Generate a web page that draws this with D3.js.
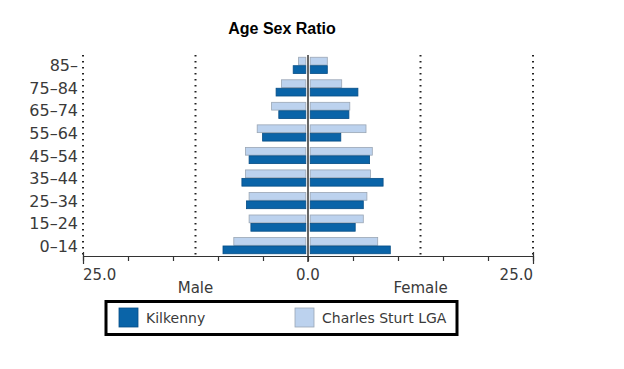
<!DOCTYPE html>
<html><head><meta charset="utf-8">
<script src="https://cdn.jsdelivr.net/npm/d3@7"></script>
<style>body{margin:0;background:#fff}</style>
</head><body>
<svg id="c" width="624" height="369"></svg>
<script>
const categories = ["85-","75-84","65-74","55-64","45-54","35-44","25-34","15-24","0-14"];
const seriesNames = ["Kilkenny","Charles Sturt LGA"];
const kilkennyMale   = [1.4, 3.3, 3.0, 4.8, 6.3, 7.1, 6.6, 6.1, 9.2];
const kilkennyFemale = [1.9, 5.3, 4.3, 3.4, 6.6, 8.1, 5.9, 5.0, 8.9];
const charlesMale    = [0.8, 2.7, 3.8, 5.4, 6.7, 6.7, 6.3, 6.3, 8.0];
const charlesFemale  = [1.9, 3.5, 4.4, 6.2, 6.9, 6.7, 6.3, 5.9, 7.5];
const xTicks = [-25,-20,-15,-10,-5,0,5,10,15,20,25];
const gridVals = [-25,-12.5,12.5,25];
const sideLabels = ["Male","Female"];

const colors = {dark:"#0a64a8", darkEdge:"#064d85", light:"#bcd2ee", lightEdge:"#9aa6b4"};
const svg = d3.select("#c");
const font = "'DejaVu Sans', sans-serif";
const textCol = "#3a3a3a";

const x = d3.scaleLinear().domain([-25,25]).range([83,533]);
const y = d3.scaleBand().domain(categories).range([55,256]).paddingInner(0.28).paddingOuter(0.1);
const sub = d3.scaleBand().domain(["light","dark"]).range([0,y.bandwidth()]).paddingInner(0.08);
const gap = 2.2;

svg.append("text").attr("x",282).attr("y",34).attr("text-anchor","middle")
  .attr("font-family","'Liberation Sans', Arial, sans-serif").attr("font-weight","bold")
  .attr("font-size",16).text("Age Sex Ratio");

// dotted grid lines
svg.selectAll(".grid").data(gridVals).enter().append("line")
  .attr("x1",d=>x(d)).attr("x2",d=>x(d)).attr("y1",55).attr("y2",256)
  .attr("stroke","#222").attr("stroke-width",2).attr("stroke-dasharray","1.5,4.5");

const rows = svg.selectAll(".row").data(categories).enter().append("g")
  .attr("transform",d=>`translate(0,${y(d)})`);

function bars(arr, kind, side){
  rows.append("rect")
    .attr("x",(d,i)=> side<0 ? x(-arr[i]) - gap : x(0)+gap)
    .attr("width",(d,i)=> x(arr[i]) - x(0))
    .attr("y", sub(kind)).attr("height", sub.bandwidth())
    .attr("fill", kind==="dark"?colors.dark:colors.light)
    .attr("stroke", kind==="dark"?colors.darkEdge:colors.lightEdge)
    .attr("stroke-width",0.8);
}
bars(charlesMale,"light",-1);
bars(kilkennyMale,"dark",-1);
bars(charlesFemale,"light",1);
bars(kilkennyFemale,"dark",1);

// center line
svg.append("line").attr("x1",x(0)).attr("x2",x(0)).attr("y1",55).attr("y2",262)
  .attr("stroke","#333").attr("stroke-width",1.5);

// category labels
svg.selectAll(".cl").data(categories).enter().append("text")
  .attr("x",78).attr("y",d=>y(d)+y.bandwidth()/2+6).attr("text-anchor","end")
  .attr("font-family",font).attr("font-size",16).attr("fill",textCol).text(d=>d.replace("-","\u2013"));

// x axis
const axis = d3.axisBottom(x).tickValues(xTicks).tickSize(5).tickFormat("");
const ag = svg.append("g").attr("transform","translate(0,256)").call(axis);
ag.select(".domain").attr("stroke","#333").attr("stroke-width",1.2);
ag.selectAll(".tick line").attr("stroke","#333").attr("stroke-width",1.2)
  .attr("y1",d=>Math.abs(d)===25?-4:0).attr("y2",d=>Math.abs(d)===25?8:5);

const tl = [{v:-25,t:"25.0",a:"start"},{v:0,t:"0.0",a:"middle"},{v:25,t:"25.0",a:"end"}];
svg.selectAll(".tl").data(tl).enter().append("text")
  .attr("x",d=>x(d.v)).attr("y",280).attr("text-anchor",d=>d.a)
  .attr("font-family",font).attr("font-size",15).attr("fill",textCol).text(d=>d.t);
svg.selectAll(".sl").data(sideLabels).enter().append("text")
  .attr("x",(d,i)=>x(i===0?-12.5:12.5)).attr("y",293).attr("text-anchor","middle")
  .attr("font-family",font).attr("font-size",15).attr("fill",textCol).text(d=>d);

// legend
svg.append("rect").attr("x",106).attr("y",301.5).attr("width",351).attr("height",33)
  .attr("fill","#fff").attr("stroke","#000").attr("stroke-width",3);
const leg = [{n:seriesNames[0],c:colors.dark,e:colors.darkEdge,x:119},{n:seriesNames[1],c:colors.light,e:colors.lightEdge,x:295}];
const lg = svg.selectAll(".lg").data(leg).enter().append("g");
lg.append("rect").attr("x",d=>d.x).attr("y",308).attr("width",19).attr("height",19)
  .attr("fill",d=>d.c).attr("stroke",d=>d.e).attr("stroke-width",0.8);
lg.append("text").attr("x",d=>d.x+27).attr("y",323).attr("font-family",font).attr("font-size",14)
  .attr("fill",textCol).text(d=>d.n);
</script>
</body></html>
